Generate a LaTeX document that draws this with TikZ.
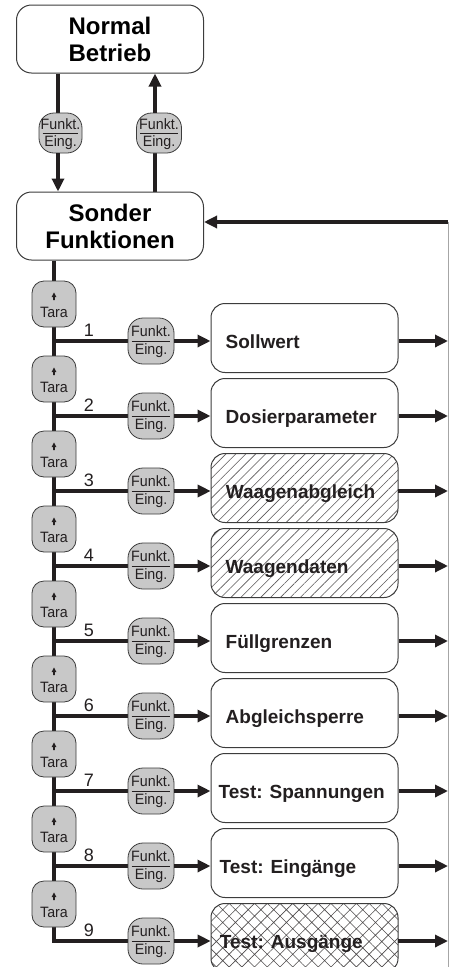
\documentclass[tikz,border=0pt]{standalone}
\usepackage{fontspec}
\setmainfont{Liberation Sans}
\newfontfamily\narrowfont[FakeStretch=0.95]{Liberation Sans}
\usetikzlibrary{arrows.meta,patterns.meta,calc}
\definecolor{ink}{RGB}{35,31,32}
\definecolor{keyfill}{RGB}{200,200,200}
\definecolor{edge}{RGB}{60,60,60}
\pgfdeclarelayer{bg}
\pgfsetlayers{bg,main}
\begin{document}
\begin{tikzpicture}[x=1pt,y=-1pt,
  line/.style={draw=ink,line width=3.2pt},
  arr/.style={line,-{Triangle[length=13pt,width=12pt]}},
  bigbox/.style={draw=edge,line width=1pt,rounded corners=15pt,minimum width=187pt,minimum height=68pt,align=center,font=\fontsize{24}{27}\selectfont\bfseries,inner sep=0pt,fill=white},
  itembox/.style={draw=edge,line width=1pt,rounded corners=14pt,minimum width=187pt,minimum height=69pt,inner sep=0pt},
  plain/.style={fill=white},
  hatchl/.style={pattern={Lines[angle=45,distance=7pt,line width=0.6pt]},pattern color=ink!75},
  hatchx/.style={pattern={Hatch[angle=45,distance=9pt,line width=0.6pt]},pattern color=ink!80},
  itemtext/.style={anchor=base west,font=\fontsize{19}{22}\selectfont\bfseries,inner sep=0pt,text=ink},
  keybox/.style={draw=edge,line width=0.8pt,fill=keyfill,rounded corners=15pt,minimum width=46pt,minimum height=46pt,inner sep=0pt},
  tarabox/.style={draw=edge,line width=0.8pt,fill=keyfill,rounded corners=12pt,minimum width=44pt,minimum height=46pt,inner sep=0pt},
  keytext/.style={font=\narrowfont\fontsize{15}{17}\selectfont,inner sep=0pt,anchor=base,text=ink},
  divider/.style={draw=ink,line width=0.8pt},
  numtext/.style={font=\fontsize{18}{20}\selectfont,anchor=base,inner sep=0pt,text=ink},
  rail/.style={draw=black!35,line width=1pt}
]
\useasboundingbox (0,0) rectangle (449,967);

% top boxes
\node[bigbox] (nb) at (110,39) {Normal\\Betrieb};
\node[bigbox] (sf) at (110,226) {Sonder\\Funktionen};

% top keys
\node[keybox,minimum width=43pt,minimum height=40pt] (kd) at (60.5,133) {};
\node[keybox,minimum width=45pt,minimum height=40pt] (ku) at (159,133) {};
\foreach \k in {kd,ku}{
  \draw[divider] ($(\k.west)+(4,0)$) -- ($(\k.east)+(-4,0)$);
  \node[keytext] at ($(\k.center)+(0,-4)$) {Funkt.};
  \node[keytext] at ($(\k.center)+(0,13)$) {Eing.};
}
\coordinate (dl) at (58,0);
\coordinate (ul) at (155,0);
\begin{pgfonlayer}{bg}
\draw[line] (nb.south -| dl) -- (kd.north -| dl);
\draw[line] (sf.north -| ul) -- (ku.south -| ul);
\end{pgfonlayer}
\draw[arr] (kd.south -| dl) -- (sf.north -| dl);
\draw[arr] (ku.north -| ul) -- (nb.south -| ul);

% return rail
\coordinate (rt) at (448,222);
\coordinate (rb) at (448,967);
\draw[rail] (rt) -- (rb);
\draw[arr] (rt) -- (sf.east |- rt);

% rows
\foreach \i/\lab/\sty/\dx [evaluate=\i as \r using {341+75*(\i-1)}] in {
  1/Sollwert/plain/15,
  2/Dosierparameter/plain/15,
  3/Waagenabgleich/hatchl/15,
  4/Waagendaten/hatchl/15,
  5/Füllgrenzen/plain/15,
  6/Abgleichsperre/plain/15,
  7/Test: Spannungen/plain/8,
  8/Test: Eingänge/plain/9,
  9/Test: Ausgänge/hatchx/9}{
  \coordinate (b\i) at (54,\r);
  \coordinate (e\i) at (448,\r);
  % Tara key
  \node[tarabox] (t\i) at (54,\r-37) {};
  \begin{scope}[shift={(t\i.center)}]
    \fill[ink] (0,-11.5) -- (2.4,-7) -- (0.9,-7) -- (0.9,-3.8) -- (-0.9,-3.8) -- (-0.9,-7) -- (-2.4,-7) -- cycle;
  \end{scope}
  \node[keytext] at ($(t\i.center)+(0,13.7)$) {Tara};
  % Funkt key
  \node[keybox] (f\i) at (151,\r) {};
  \draw[divider] ($(f\i.west)+(4,0)$) -- ($(f\i.east)+(-4,0)$);
  \node[keytext] at ($(f\i.center)+(0,-4.5)$) {Funkt.};
  \node[keytext] at ($(f\i.center)+(0,13.5)$) {Eing.};
  % number
  \node[numtext] at (89,\r-4.5) {\i};
  % function box
  \node[itembox,\sty] (box\i) at (304.5,\r-3) {};
  \node[itemtext] at ($(box\i.west |- e\i)+(\dx,7)$) {\lab};
  % connectors
  \begin{pgfonlayer}{bg}
    \draw[line] (b\i) -- (f\i.west);
  \end{pgfonlayer}
  \draw[arr] (f\i.east) -- (box\i.west |- b\i);
  \draw[arr] (box\i.east |- b\i) -- (e\i);
}
\begin{pgfonlayer}{bg}
\draw[line,line join=miter] (sf.south -| b1) -- (b9) -- (f9.west);
\end{pgfonlayer}
\end{tikzpicture}
\end{document}
